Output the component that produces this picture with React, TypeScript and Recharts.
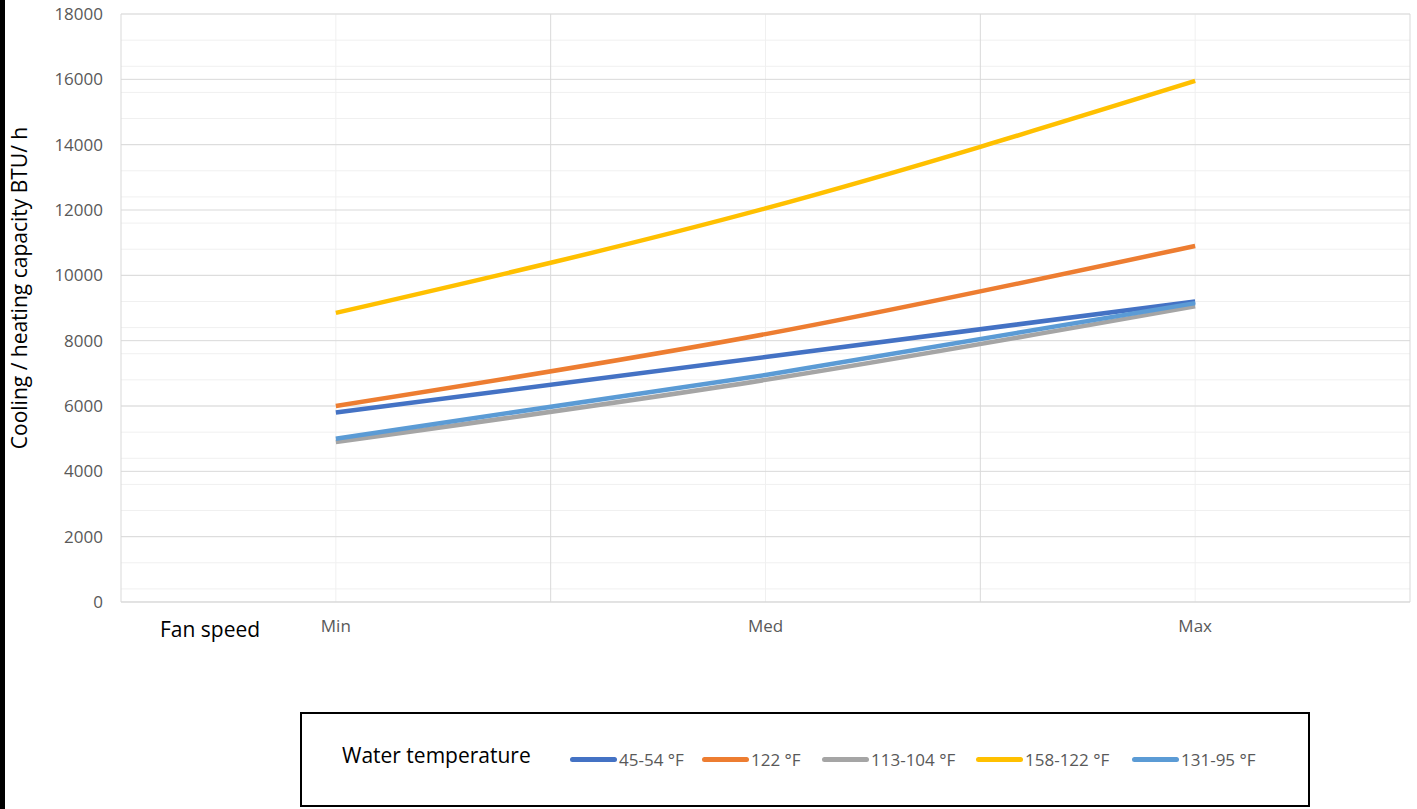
import { LineChart, Line, XAxis, YAxis, CartesianGrid } from "recharts";

const categories = ["Min", "Med", "Max"];
const xPositions = [1, 3, 5];

const seriesNames = ["45-54 °F", "122 °F", "113-104 °F", "158-122 °F", "131-95 °F"];
const seriesColors = ["#4472C4", "#ED7D31", "#A5A5A5", "#FFC000", "#5B9BD5"];

const blue4554 = [5800, 7500, 9200];
const orange122 = [6000, 8200, 10900];
const gray113104 = [4900, 6800, 9050];
const yellow158122 = [8850, 12050, 15950];
const lightBlue13195 = [5000, 6950, 9150];

const seriesValues = [blue4554, orange122, gray113104, yellow158122, lightBlue13195];

const yTicks = [0, 2000, 4000, 6000, 8000, 10000, 12000, 14000, 16000, 18000];
const yMinor = Array.from({ length: 46 }, (_, i) => i * 400);
const xMajor = [0, 2, 4, 6];
const xMinor = [1, 3, 5];

const rows = xPositions.map((x, i) => {
  const row: Record<string, number | string> = { x, name: categories[i] };
  seriesNames.forEach((s, k) => {
    row[s] = seriesValues[k][i];
  });
  return row;
});

const FONT = "'Open Sans', sans-serif";
// legend item offsets inside the box
const legendLefts = [268, 400, 520, 674, 830];

export default function App() {
  return (
    <div style={{ position: "relative", width: 1417, height: 809, background: "#fff", fontFamily: FONT }}>
      <style>{"body{margin:0}"}</style>
      <div style={{ position: "absolute", left: 0, top: 0, width: 5, height: 809, background: "#000" }} />

      <LineChart
        width={1417}
        height={680}
        data={rows}
        margin={{ top: 14, right: 7, left: 0, bottom: 48 }}
        style={{ position: "absolute", left: 0, top: 0 }}
      >
        <CartesianGrid stroke="#f0f0f0" strokeWidth={1} horizontalValues={yMinor} verticalValues={xMinor} />
        <CartesianGrid stroke="#d9d9d9" strokeWidth={1} horizontalValues={yTicks} verticalValues={xMajor} />
        <XAxis
          dataKey="x"
          type="number"
          domain={[0, 6]}
          ticks={xPositions}
          tickFormatter={(v: number) => categories[xPositions.indexOf(v)] ?? ""}
          axisLine={{ stroke: "#d9d9d9" }}
          tickLine={false}
          tickSize={0}
          tickMargin={18}
          height={30}
          tick={{ fill: "#595959", fontSize: 17, fontFamily: FONT }}
        />
        <YAxis
          type="number"
          domain={[0, 18000]}
          ticks={yTicks}
          width={121}
          axisLine={false}
          tickLine={false}
          tickSize={0}
          tickMargin={18}
          tick={{ fill: "#595959", fontSize: 17, fontFamily: FONT }}
        />
        {seriesNames.map((s, k) => (
          <Line
            key={s}
            type="monotone"
            dataKey={s}
            stroke={seriesColors[k]}
            strokeWidth={4.5}
            dot={false}
            isAnimationActive={false}
          />
        ))}
      </LineChart>

      <div
        style={{
          position: "absolute",
          left: 19,
          top: 288,
          transform: "translate(-50%, -50%) rotate(-90deg)",
          whiteSpace: "nowrap",
          fontSize: 21,
          color: "#000",
        }}
      >
        Cooling / heating capacity BTU/ h
      </div>

      <div style={{ position: "absolute", left: 160, top: 615, fontSize: 21, color: "#000" }}>Fan speed</div>

      <div
        style={{
          position: "absolute",
          left: 300,
          top: 712,
          width: 1006,
          height: 91,
          border: "2px solid #000",
        }}
      >
        <div style={{ position: "absolute", left: 40, top: 27, fontSize: 21, color: "#000" }}>Water temperature</div>
        {seriesNames.map((s, k) => (
          <div
            key={s}
            style={{ position: "absolute", left: legendLefts[k], top: 34, display: "flex", alignItems: "center" }}
          >
            <span
              style={{
                display: "inline-block",
                width: 47,
                height: 5,
                borderRadius: 3,
                background: seriesColors[k],
                marginRight: 2,
              }}
            />
            <span style={{ fontSize: 17, color: "#595959" }}>{s}</span>
          </div>
        ))}
      </div>
    </div>
  );
}
